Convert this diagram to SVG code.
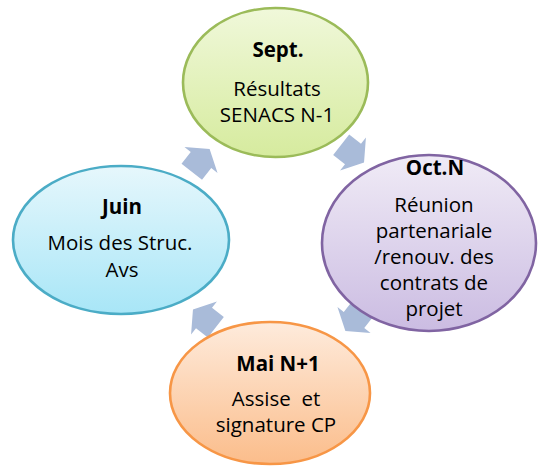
<svg xmlns="http://www.w3.org/2000/svg" width="538" height="468" viewBox="0 0 538 468">
<style>
text{font-family:"Open Sans","Liberation Sans",sans-serif;font-size:20.5px;fill:#000;text-anchor:middle}
.t{font-weight:700}
.arrow{fill:#a9bbd9}
ellipse{stroke-width:2.6}
</style>
<defs>
<linearGradient id="gGreen" x1="0" y1="0" x2="0" y2="1"><stop offset="0" stop-color="#f0f8da"/><stop offset="1" stop-color="#d6eb9e"/></linearGradient>
<linearGradient id="gPurple" x1="0" y1="0" x2="0" y2="1"><stop offset="0" stop-color="#f0ebf6"/><stop offset="1" stop-color="#cbbce2"/></linearGradient>
<linearGradient id="gBlue" x1="0" y1="0" x2="0" y2="1"><stop offset="0" stop-color="#e6f7fc"/><stop offset="1" stop-color="#a8e6f7"/></linearGradient>
<linearGradient id="gOrange" x1="0" y1="0" x2="0" y2="1"><stop offset="0" stop-color="#feebdc"/><stop offset="1" stop-color="#fbbd8b"/></linearGradient>
<polygon id="arr" points="-15,-13 0,-13 0,-21 14,0 0,21 0,13 -15,13"/>
</defs>
<g id="connectors">
<use href="#arr" class="arrow" transform="translate(201,160) rotate(-52)"/>
<use href="#arr" class="arrow" transform="translate(353,154) rotate(38)"/>
<use href="#arr" class="arrow" transform="translate(354,320) rotate(128)"/>
<use href="#arr" class="arrow" transform="translate(204,318) rotate(218)"/>
</g>
<g id="node-sept">
<ellipse cx="275.5" cy="82.5" rx="92.5" ry="74.5" fill="url(#gGreen)" stroke="#9bbb59"/>
<text class="t" x="278" y="57">Sept.</text>
<text x="277" y="96">Résultats</text>
<text x="277" y="122">SENACS N-1</text>
</g>
<g id="node-oct">
<ellipse cx="429" cy="243" rx="107" ry="88" fill="url(#gPurple)" stroke="#8064a2"/>
<text class="t" x="435" y="175">Oct.N</text>
<text x="434" y="212">Réunion</text>
<text x="434" y="238">partenariale</text>
<text x="434" y="264">/renouv. des</text>
<text x="434" y="290">contrats de</text>
<text x="434" y="316">projet</text>
</g>
<g id="node-mai">
<ellipse cx="270" cy="393" rx="100" ry="71" fill="url(#gOrange)" stroke="#f79646"/>
<text class="t" x="278" y="371">Mai N+1</text>
<text x="276" y="406" xml:space="preserve">Assise  et</text>
<text x="276" y="432">signature CP</text>
</g>
<g id="node-juin">
<ellipse cx="121" cy="240" rx="108" ry="74" fill="url(#gBlue)" stroke="#4bacc6"/>
<text class="t" x="122" y="214">Juin</text>
<text x="120" y="250">Mois des Struc.</text>
<text x="122" y="277">Avs</text>
</g>
</svg>
